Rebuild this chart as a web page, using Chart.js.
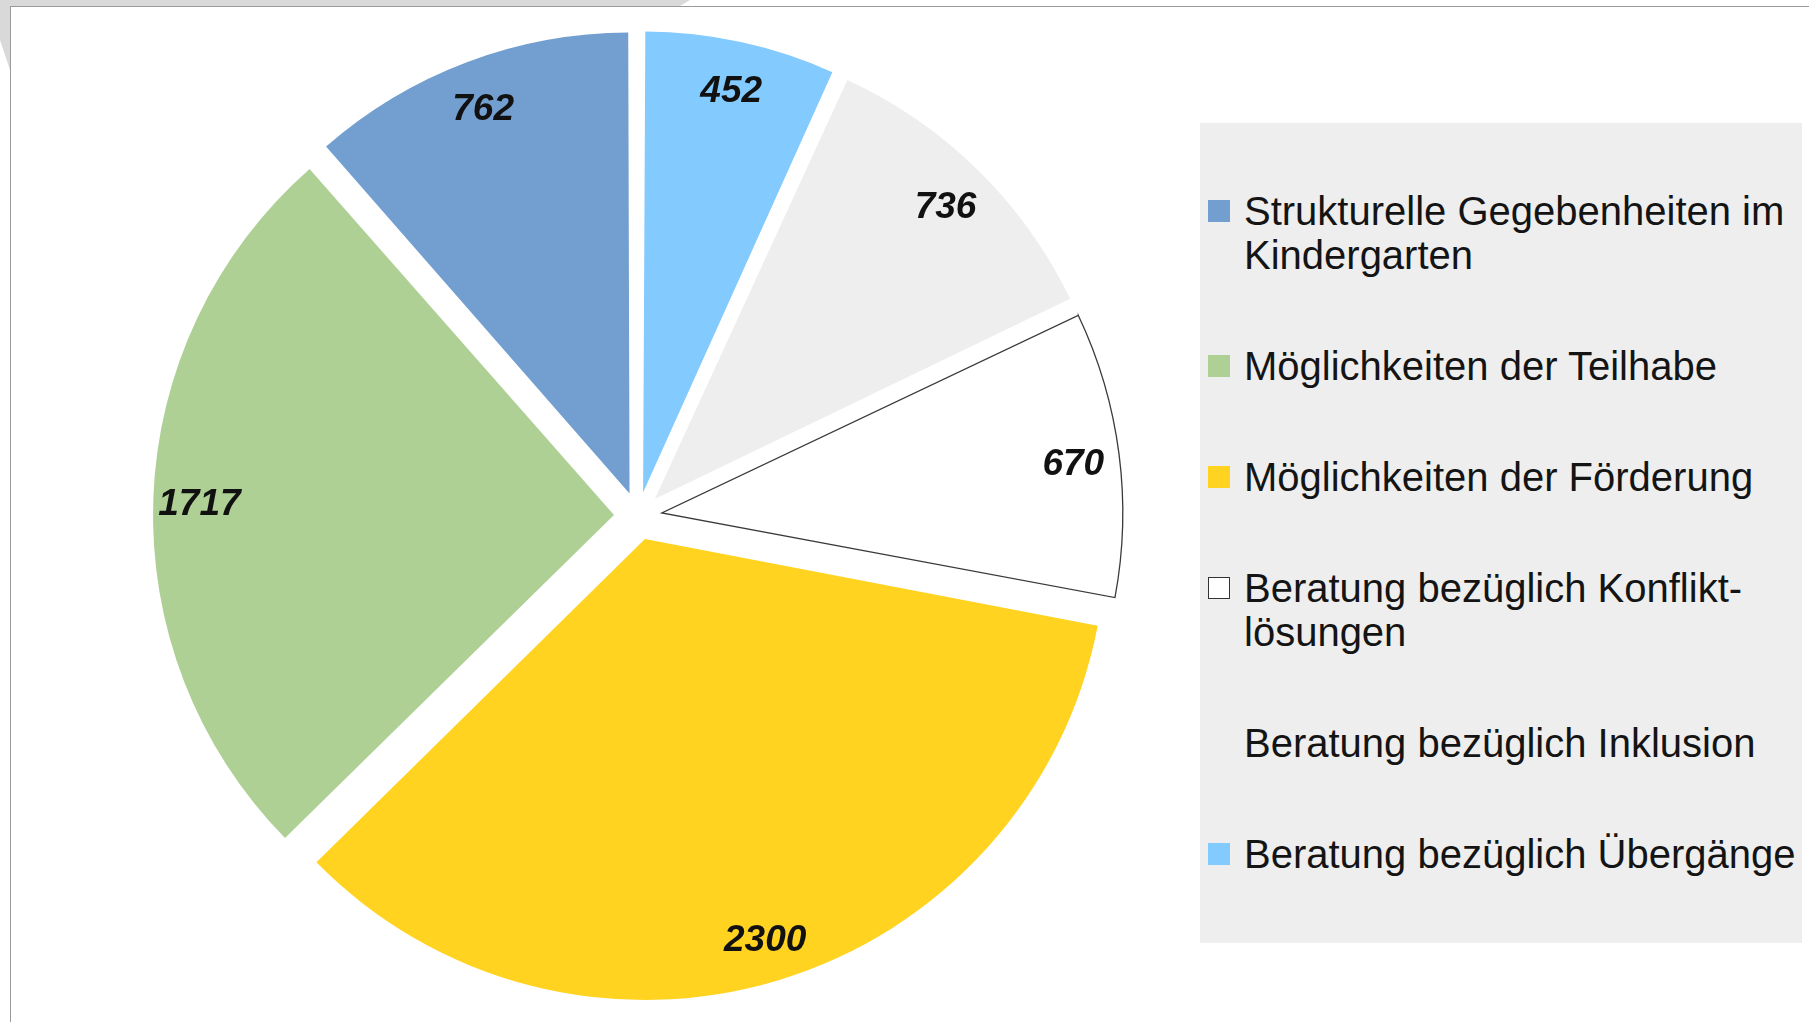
<!DOCTYPE html>
<html><head><meta charset="utf-8">
<script src="https://cdn.jsdelivr.net/npm/chart.js@4"></script>
<style>
html,body{margin:0;padding:0;width:1809px;height:1022px;overflow:hidden;background:#fff;font-family:"Liberation Sans",Arial,sans-serif;}
#shade{position:absolute;left:0;top:0;width:690px;height:80px;background:#d9d9d9;clip-path:polygon(0 0,690px 0,680px 6px,10px 6px,10px 70px,0 40px);}
#frameTop{position:absolute;left:10px;top:6px;width:1799px;height:1px;background:#9a9a9a;}
#frameLeft{position:absolute;left:10px;top:6px;width:1px;height:1016px;background:#9a9a9a;}
#wrap{position:absolute;left:0;top:0;width:1809px;height:1022px;}
#legend{position:absolute;left:1200px;top:123px;width:602px;height:820px;background:#eeeeee;box-sizing:border-box;padding-top:66px;display:flex;flex-direction:column;gap:67px;}
.item{position:relative;padding-left:44px;font-size:40px;line-height:44px;color:#141414;white-space:pre-line;}
.sw{position:absolute;left:8px;top:11px;width:22px;height:22px;box-sizing:border-box;}
</style>
</head><body>
<div id="shade"></div>
<div id="frameTop"></div>
<div id="frameLeft"></div>
<div id="wrap"><canvas id="c"></canvas></div>
<div id="legend"></div>
<script>
// Legend order (as shown in the reference legend)
const categories = [
  "Strukturelle Gegebenheiten im\nKindergarten",
  "Möglichkeiten der Teilhabe",
  "Möglichkeiten der Förderung",
  "Beratung bezüglich Konflikt-\nlösungen",
  "Beratung bezüglich Inklusion",
  "Beratung bezüglich Übergänge"
];
const values = [762, 1717, 2300, 670, 736, 452];
const colors = ["#729fcf", "#afd095", "#ffd320", "#ffffff", "#eeeeee", "#83caff"];
const borderWidths = [0, 0, 0, 1.3, 0, 0];

// The reference pie runs counter-clockwise from 12 o'clock; Chart.js runs clockwise,
// so the chart gets the reversed order.
const chartLabels = categories.slice().reverse();
const chartValues = values.slice().reverse();
const chartColors = colors.slice().reverse();
const chartBorders = borderWidths.slice().reverse();

const OFFSET = 96; // Chart.js translates an arc by offset/4

const explodePlugin = {
  id: 'explodePlugin',
  beforeDatasetsDraw(chart) {
    const meta = chart.getDatasetMeta(0);
    const base = meta.controller.outerRadius;
    meta.data.forEach(el => {
      const fix = 1 - Math.sin(Math.min(Math.PI, el.circumference));
      el.outerRadius = base - (OFFSET / 4) * fix;
    });
  },
  afterDatasetsDraw(chart) {
    const meta = chart.getDatasetMeta(0);
    const base = meta.controller.outerRadius;
    const ctx = chart.ctx;
    ctx.save();
    ctx.font = 'italic bold 37px "Liberation Sans", Arial, sans-serif';
    ctx.fillStyle = '#111111';
    ctx.textAlign = 'center';
    ctx.textBaseline = 'alphabetic';
    meta.data.forEach((el, i) => {
      const mid = (el.startAngle + el.endAngle) / 2;
      const r = OFFSET / 4 + base * 0.9;
      ctx.fillText(String(chartValues[i]), el.x + Math.cos(mid) * r, el.y + Math.sin(mid) * r + 15);
    });
    ctx.restore();
  }
};

new Chart(document.getElementById('c'), {
  type: 'pie',
  data: {
    labels: chartLabels,
    datasets: [{
      data: chartValues,
      backgroundColor: chartColors,
      borderColor: '#3a3a3a',
      borderWidth: chartBorders,
      borderJoinStyle: 'miter',
      offset: OFFSET,
      hoverOffset: 0,
      radius: 461
    }]
  },
  options: {
    responsive: true,
    maintainAspectRatio: false,
    animation: false,
    layout: { padding: { left: 0, right: 533, top: 10, bottom: 0 } },
    plugins: { legend: { display: false }, tooltip: { enabled: false } }
  },
  plugins: [explodePlugin]
});

// HTML legend
const legend = document.getElementById('legend');
categories.forEach((name, i) => {
  const item = document.createElement('div');
  item.className = 'item';
  const sw = document.createElement('span');
  sw.className = 'sw';
  sw.style.background = colors[i];
  if (colors[i] === '#ffffff') sw.style.border = '1.5px solid #333';
  item.appendChild(sw);
  item.appendChild(document.createTextNode(name));
  legend.appendChild(item);
});
</script>
</body></html>
